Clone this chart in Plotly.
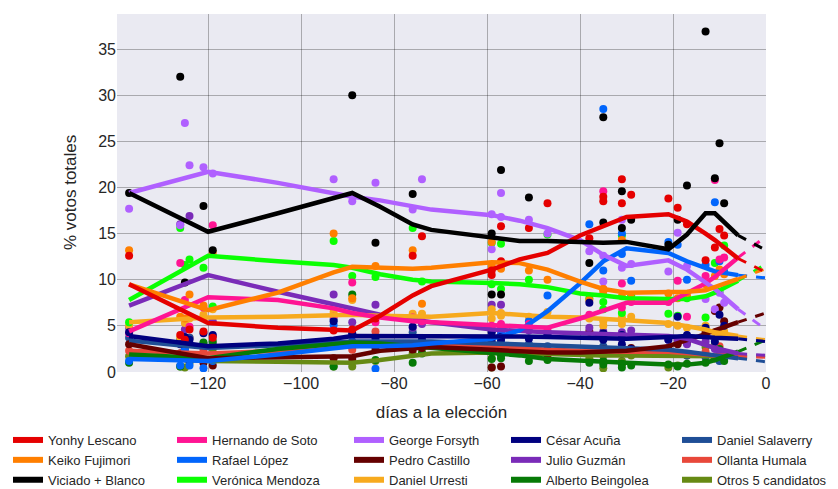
import plotly.graph_objects as go

# ---- data ----
trend_days = [-137, -120, -105, -93, -89, -83, -76, -72, -59, -53, -47, -40, -35, -30, -21, -17, -13, -11, -6]
proj_day = 0

poll_days = [-137, -126, -125, -124, -121, -119, -93, -89, -84, -76, -74, -59, -59, -57, -57,
             -51, -47, -38, -35, -35, -31, -31, -29, -21, -19, -17, -13, -11, -10, -9]

names = ["Yonhy Lescano", "Keiko Fujimori", "Viciado + Blanco",
         "Hernando de Soto", "Rafael López", "Verónica Mendoza",
         "George Forsyth", "Pedro Castillo", "Daniel Urresti",
         "César Acuña", "Julio Guzmán", "Alberto Beingolea",
         "Daniel Salaverry", "Ollanta Humala", "Otros 5 candidatos"]

colors = ["#E50000", "#FF7F00", "#000000",
          "#FF1493", "#0165FC", "#0AFF02",
          "#B060FF", "#650000", "#F7AA1E",
          "#00007F", "#7A2BB8", "#067A06",
          "#1F4E96", "#E8483A", "#668A14"]

lescano_trend = [9.5, 5.3, 4.8, 4.5, 4.5, 6.1, 8.3, 9.3, 11.1, 12.2, 12.9, 14.8, 15.8, 16.8, 17.1, 16.3, 15.0, 14.3, 12.3]
fujimori_trend = [9.5, 6.7, 8.6, 10.8, 11.4, 11.3, 11.2, 11.3, 11.9, 11.8, 11.1, 9.8, 9.0, 8.6, 8.6, 8.7, 8.85, 9.2, 10.1]
viciado_trend = [19.4, 15.2, 17.2, 18.9, 19.4, 17.9, 16.0, 15.4, 14.5, 14.2, 14.2, 14.1, 14.0, 14.1, 13.3, 14.9, 17.2, 17.2, 14.8]
desoto_trend = [4.4, 8.1, 7.8, 6.9, 6.4, 5.9, 5.5, 5.4, 5.0, 4.9, 4.8, 5.8, 6.6, 7.5, 7.5, 8.5, 9.6, 10.3, 12.4]
lopez_trend = [1.4, 1.2, 1.9, 2.6, 2.8, 2.8, 2.9, 3.1, 3.6, 4.5, 6.6, 9.6, 12.0, 13.4, 12.9, 12.0, 11.2, 10.9, 10.5]
mendoza_trend = [7.8, 12.6, 12.0, 11.6, 11.3, 10.6, 10.0, 9.8, 9.65, 9.5, 9.2, 8.5, 8.3, 8.0, 7.9, 7.9, 8.2, 8.6, 9.9]
forsyth_trend = [19.4, 21.7, 20.5, 19.4, 19.0, 18.6, 17.9, 17.6, 17.0, 16.4, 15.6, 14.3, 12.7, 11.5, 12.1, 11.1, 9.7, 9.0, 6.8]
castillo_trend = [3.0, 1.5, 1.6, 1.6, 1.7, 2.3, 2.5, 2.7, 2.4, 2.2, 2.1, 2.1, 2.2, 2.3, 2.8, 3.4, 4.1, 4.5, 5.4]
urresti_trend = [5.4, 5.9, 6.0, 6.1, 6.2, 6.1, 6.0, 6.0, 6.4, 6.2, 6.0, 5.9, 5.7, 5.6, 5.3, 5.0, 4.6, 4.3, 3.9]
acuna_trend = [3.9, 2.8, 3.1, 3.6, 3.9, 3.9, 3.95, 3.95, 3.9, 3.85, 3.8, 3.7, 3.6, 3.6, 3.8, 3.9, 3.8, 3.7, 3.6]
guzman_trend = [7.2, 10.5, 8.7, 7.3, 6.8, 6.2, 5.7, 5.4, 4.6, 4.4, 4.3, 4.2, 4.1, 4.0, 3.9, 3.6, 2.9, 2.6, 2.0]
beingolea_trend = [1.9, 1.5, 2.5, 3.0, 3.2, 3.1, 2.8, 2.6, 2.0, 1.8, 1.4, 1.2, 1.1, 1.0, 0.8, 0.8, 1.0, 1.3, 2.2]
salaverry_trend = [3.4, 2.6, 2.9, 3.2, 3.3, 3.3, 3.3, 3.3, 3.1, 3.0, 2.9, 2.8, 2.7, 2.6, 2.4, 2.2, 1.9, 1.8, 1.5]
humala_trend = [2.3, 2.0, 2.3, 2.6, 2.8, 3.0, 3.1, 3.1, 2.8, 2.6, 2.4, 2.3, 2.2, 2.2, 2.2, 2.1, 1.9, 1.8, 1.7]
otros_trend = [1.7, 1.2, 1.1, 1.0, 1.0, 1.3, 1.7, 2.0, 2.1, 2.0, 1.9, 1.8, 1.8, 1.8, 1.7, 1.7, 1.7, 1.7, 1.7]

projections = [10.8, 11.2, 13.2, 14.7, 10.2, 11.7, 4.6, 6.4, 3.5, 3.3, 1.8, 3.5, 1.1, 1.6, 1.8]

lescano_polls = [12.6, 4.0, 3.5, 4.6, 4.4, 3.7, 4.5, 4.6, 5.8, 12.6, 14.7, 11.0, 10.5, 12.0, 15.8,
                 15.6, 18.3, 14.5, 18.5, 19.0, 20.9, 18.3, 19.2, 18.8, 17.8, 16.0, 12.1, 13.5, 15.5, 14.8]
fujimori_polls = [13.2, 6.0, 5.8, 8.4, 7.2, 12.9, 15.0, 8.0, 11.5, 13.2, 7.4, 14.1, 11.5, 11.9, 11.2,
                  11.0, 10.0, 7.8, 9.0, 8.7, 14.3, 8.2, 8.0, 8.5, 8.0, 8.3, 9.5, 10.4, 11.1, 10.6]
viciado_polls = [19.4, 32.0, 9.7, None, 18.0, 13.2, None, 30.0, 14.0, 19.3, None, 15.0, 8.4, 21.9, 8.4,
                 18.9, None, 11.8, 27.6, 16.2, 19.6, 15.6, 16.5, 13.8, 16.5, 20.2, 36.9, 21.0, 24.8, 18.3]
desoto_polls = [4.2, 11.8, 7.8, 4.9, 7.0, 15.9, 6.0, 9.7, 5.4, 5.9, 5.5, 5.0, 4.6, 4.8, 5.2,
                5.2, 4.5, 6.2, 19.6, 9.0, 7.0, 9.6, 7.6, 7.6, 9.9, 6.0, 10.4, 20.8, 12.2, 12.4]
lopez_polls = [1.2, 0.7, 2.5, 0.7, 0.4, 1.2, 5.1, 4.0, 0.35, 3.0, 3.3, 4.5, 3.0, 3.5, 4.0,
               5.5, 8.3, 16.0, 28.5, 11.0, 15.0, 12.8, 9.9, 14.1, 13.8, 10.0, 11.6, 18.4, 12.0, 10.9]
mendoza_polls = [5.4, 15.6, 11.6, 12.2, 11.3, 7.1, 14.2, 10.4, 10.3, 15.6, 9.8, 14.0, 9.5, 13.9, 9.0,
                 10.0, 14.9, 8.0, 7.6, 6.8, 14.8, 6.4, 8.3, 6.3, 6.1, 8.0, 5.9, 11.8, 8.7, 13.7]
forsyth_polls = [17.7, 15.9, 27.0, 22.4, 22.2, 21.5, 20.9, 18.5, 20.5, 17.6, 20.9, 17.1, 13.3, 19.4, 16.8,
                 16.5, 15.0, 13.1, 12.6, 9.8, 16.5, 11.3, 11.7, 10.9, 15.1, 11.5, 7.9, 6.8, 8.6, 7.5]
castillo_polls = [3.0, 2.0, 1.5, 1.2, 1.0, 0.7, 1.5, 1.4, 2.5, 2.4, 2.6, 2.8, 0.5, 2.2, 0.6,
                  2.2, 1.8, 4.4, 2.0, 2.5, 2.3, 2.0, 2.6, 2.6, 3.0, 3.2, 4.3, 6.6, 7.0, 5.5]
urresti_polls = [5.0, 3.7, 5.3, 5.8, 6.2, 6.8, 6.5, 7.8, 6.0, 6.3, 6.3, 5.8, 6.8, 6.4, 6.1,
                 6.0, 6.5, 5.8, 5.5, 5.0, 5.2, 5.9, 6.0, 5.2, 5.0, 4.8, 5.0, 4.3, 4.0, 4.4]
acuna_polls = [4.3, 3.0, 3.8, 3.5, 4.2, 4.0, 5.5, 4.2, 3.6, 4.9, 3.5, 4.3, 3.3, 3.5, 3.8,
               3.6, 4.0, 7.5, 3.5, 4.2, 4.0, 3.0, 2.5, 3.5, 6.0, 4.0, 4.8, 3.3, 6.2, 5.0]
guzman_polls = [4.8, 16.0, 4.6, 16.9, 5.9, 5.5, 8.4, 5.4, 7.3, 4.8, 5.2, 7.3, 4.6, 7.3, 4.2,
                4.5, 4.0, 4.8, 3.9, 4.4, 4.3, 3.6, 4.5, 3.5, 3.5, 3.0, 3.3, 2.5, 2.0, 2.1]
beingolea_polls = [1.0, 0.6, 2.0, 1.6, 3.2, 3.3, 0.6, 8.4, 1.3, 1.0, 2.0, 1.4, 2.2, 1.5, 1.8,
                   1.2, 1.3, 1.0, 0.8, 1.2, 0.9, 0.5, 0.7, 0.8, 0.6, 0.9, 1.0, 1.5, 2.5, 1.2]
salaverry_polls = [3.7, 3.5, 2.5, 3.7, 3.1, 3.0, 5.7, 3.3, 3.0, 4.3, 3.3, 3.0, 2.8, 3.1, 2.9,
                   3.0, 2.8, 2.5, 2.2, 2.8, 2.5, 2.0, 2.4, 2.2, 2.0, 1.8, 1.6, 1.5, 1.2, 1.8]
humala_polls = [2.3, 2.0, 1.8, 3.7, 2.4, 3.9, 3.0, 2.4, 4.4, 3.0, 3.1, 2.8, 3.0, 2.5, 2.9,
                2.6, 2.3, 2.2, 2.0, 2.4, 2.1, 2.3, 2.0, 2.3, 2.0, 1.9, 2.2, 1.5, 2.8, 1.8]
otros_polls = [1.7, 0.6, 0.5, 1.0, 2.8, 2.5, 0.6, 0.6, 1.2, 2.0, 2.1, 0.5, 1.5, 2.2, 2.0,
               1.9, 2.0, 1.5, 0.4, 1.8, 0.9, 1.2, 1.8, 0.5, 0.7, 1.8, 2.7, 3.0, 2.0, 1.5]

x_ticks = [-120, -100, -80, -60, -40, -20, 0]
x_tick_labels = ["\u2212120", "\u2212100", "\u221280", "\u221260", "\u221240", "\u221220", "0"]
y_ticks = [0, 5, 10, 15, 20, 25, 30, 35]

trends = [lescano_trend, fujimori_trend, viciado_trend, desoto_trend, lopez_trend, mendoza_trend,
          forsyth_trend, castillo_trend, urresti_trend, acuna_trend, guzman_trend, beingolea_trend,
          salaverry_trend, humala_trend, otros_trend]
polls = [lescano_polls, fujimori_polls, viciado_polls, desoto_polls, lopez_polls, mendoza_polls,
         forsyth_polls, castillo_polls, urresti_polls, acuna_polls, guzman_polls, beingolea_polls,
         salaverry_polls, humala_polls, otros_polls]

# The page body adds an 8px margin, so the figure is 8px smaller than the window.
W, H = 830, 481
PL, PR, PT, PB = 109, 758, 6, 364.5   # plot area in figure pixels

legend_ids = ["legend", "legend2", "legend3", "legend4", "legend5"]
legend_cols_px = [0, 164, 341, 498, 669]   # left edge of each legend column (px)

draw_order = [14, 13, 12, 11, 7, 10, 8, 5, 4, 3, 6, 1, 9, 0, 2]

fig = go.Figure()

for i in draw_order:
    fig.add_trace(go.Scatter(
        x=poll_days, y=polls[i], mode="markers",
        marker=dict(color=colors[i], size=8, line=dict(width=0)),
        showlegend=False, hoverinfo="skip"))

for i in draw_order:
    fig.add_trace(go.Scatter(
        x=[trend_days[-1], proj_day], y=[trends[i][-1], projections[i]],
        mode="lines", line=dict(color=colors[i], width=3, dash="dash"),
        showlegend=False, hoverinfo="skip"))
    fig.add_trace(go.Scatter(
        x=trend_days, y=trends[i], mode="lines", name=names[i],
        line=dict(color=colors[i], width=4.5), showlegend=False))

# legend entries (thicker keys, as in the reference)
for i in range(len(names)):
    fig.add_trace(go.Scatter(
        x=[None], y=[None], mode="lines", name=names[i],
        line=dict(color=colors[i], width=6),
        legend=legend_ids[i // 3], legendrank=(i % 3) + 1, hoverinfo="skip"))

font_family = "Liberation Sans, Arial, sans-serif"
txt = "#262626"
grid = "rgba(0,0,0,0.28)"

legend_common = dict(orientation="v", xref="container", yref="container",
                     xanchor="left", yanchor="top", y=(H - 417) / H,
                     font=dict(size=13, color=txt), traceorder="normal",
                     bgcolor="rgba(0,0,0,0)", itemwidth=30, tracegroupgap=0)

layout_legends = {}
for k, lid in enumerate(legend_ids):
    layout_legends[lid] = dict(legend_common, x=legend_cols_px[k] / W)

plot_w = PR - PL

fig.update_layout(
    width=W, height=H,
    margin=dict(l=PL, r=W - PR, t=PT, b=H - PB, autoexpand=False),
    paper_bgcolor="white", plot_bgcolor="#EAEAF2",
    font=dict(family=font_family, color=txt),
    xaxis=dict(range=[-139.6, 0], tickvals=x_ticks, ticktext=x_tick_labels,
               showgrid=True, gridcolor=grid, gridwidth=1, zeroline=False,
               showline=False, ticks="", tickfont=dict(size=16, color=txt),
               title=dict(text="días a la elección", font=dict(size=17, color=txt))),
    yaxis=dict(range=[0, 38.8], tickvals=y_ticks,
               showgrid=True, gridcolor=grid, gridwidth=1, zeroline=False,
               showline=False, ticks="", tickfont=dict(size=16, color=txt)),
    annotations=[dict(text="% votos totales", textangle=-90, showarrow=False,
                      xref="paper", yref="paper", x=(62 - PL) / plot_w, y=0.5,
                      xanchor="center", yanchor="middle",
                      font=dict(size=17, color=txt))],
    **layout_legends,
)

fig.write_html("out.html")
